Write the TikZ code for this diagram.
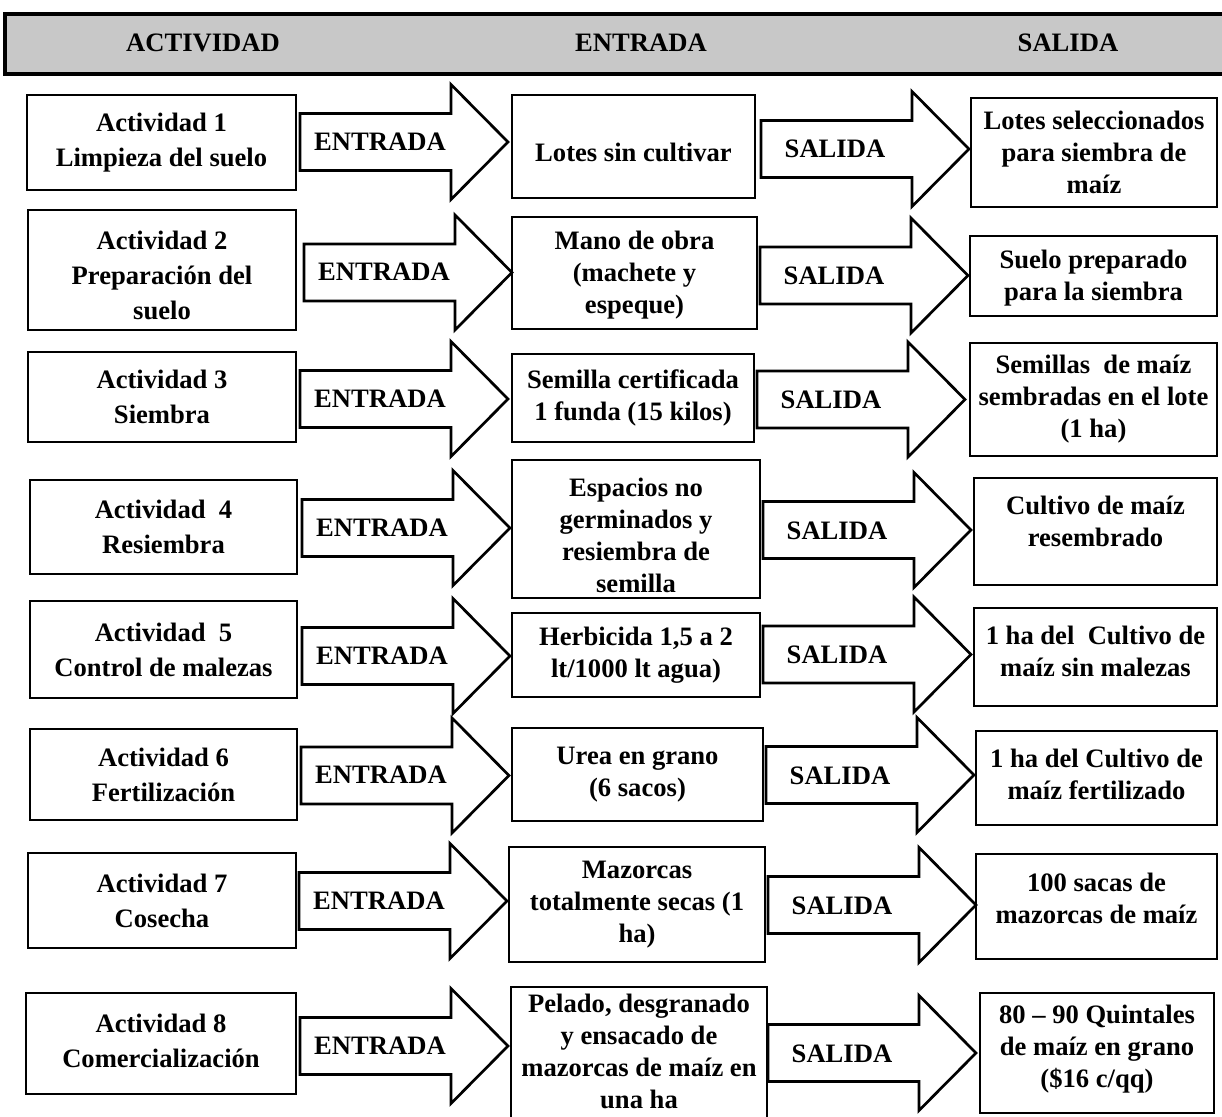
\documentclass[tikz,border=0pt]{standalone}
\usepackage{fontspec}
\setmainfont{Liberation Serif}
\usetikzlibrary{fit}
\definecolor{hdrgray}{RGB}{200,200,200}
\tikzset{
  txt/.style={font=\fontsize{13.3}{16}\selectfont\bfseries},
  atxt/.style={font=\fontsize{13.3}{17.5}\selectfont\bfseries},
  bx/.style={draw, line width=1.35pt, inner sep=0pt},
  arr/.style={draw, line width=1.35pt, line join=miter, fill=white},
  lbl/.style={txt, inner sep=0pt, align=center},
  albl/.style={atxt, inner sep=0pt, align=center},
  hdr/.style={draw, line width=1.6pt, fill=hdrgray, inner sep=0pt},
}
% box with text: [yshift in pt]{name}{corner}{corner}{text}
\newcommand\tbox[5][0]{%
  \node[bx, fit={#3 #4}] (#2) {};
  \node[lbl, yshift=#1pt] (#2t) at (#2.center) {#5};
}
\newcommand\abox[5][0]{%
  \node[bx, fit={#3 #4}] (#2) {};
  \node[albl, yshift=#1pt] (#2t) at (#2.center) {#5};
}
\newcommand\blockarrow[2]{%
  \draw[arr] (#1,#2-28.5) -- (#1+151,#2-28.5) -- (#1+151,#2-57.5) -- (#1+208,#2)
    -- (#1+151,#2+57.5) -- (#1+151,#2+28.5) -- (#1,#2+28.5) -- cycle;
}
\begin{document}
\begin{tikzpicture}[x=0.5pt,y=-0.5pt]
\useasboundingbox (0,0) rectangle (1222,1117);
% header
\node[hdr, fit={(5,14) (1245,74)}] (hdr) {};
\node[lbl] (h1) at (203,43) {ACTIVIDAD};
\node[lbl] (h2) at (641,43) {ENTRADA};
\node[lbl] (h3) at (1068,43) {SALIDA};

% row 1
\abox{a1}{(27,95)}{(296,190)}{Actividad 1\\Limpieza del suelo}
\tbox[-3]{e1}{(512,95)}{(755,198)}{Lotes sin cultivar}
\tbox{s1}{(971,98)}{(1217,207)}{Lotes seleccionados\\para siembra de\\maíz}
\blockarrow{300}{142}
\node[lbl] (ea1) at (380,142) {ENTRADA};
\blockarrow{761}{149}
\node[lbl] (sa1) at (835,149) {SALIDA};

% row 2
\abox[-2.5]{a2}{(28,210)}{(296,330)}{Actividad 2\\Preparación del\\suelo}
\tbox[-1]{e2}{(512,217)}{(757,329)}{Mano de obra\\(machete y\\espeque)}
\tbox[-1]{s2}{(970,236)}{(1217,316)}{Suelo preparado\\para la siembra}
\blockarrow{304}{272.5}
\node[lbl] (ea2) at (384,272) {ENTRADA};
\blockarrow{760}{275.5}
\node[lbl] (sa2) at (834,276) {SALIDA};

% row 3
\abox{a3}{(28,352)}{(296,442)}{Actividad 3\\Siembra}
\tbox{e3}{(512,354)}{(754,442)}{Semilla certificada\\1 funda (15 kilos)}
\tbox{s3}{(970,343)}{(1217,456)}{Semillas~ de maíz\\sembradas en el lote\\(1 ha)}
\blockarrow{300}{399}
\node[lbl] (ea3) at (380,399) {ENTRADA};
\blockarrow{757}{399.5}
\node[lbl] (sa3) at (831,400) {SALIDA};

% row 4
\abox{a4}{(30,480)}{(297,574)}{Actividad~ 4\\Resiembra}
\tbox[-3]{e4}{(512,460)}{(760,598)}{Espacios no\\germinados y\\resiembra de\\semilla}
\tbox[5]{s4}{(974,478)}{(1217,585)}{Cultivo de maíz\\resembrado}
\blockarrow{302}{528}
\node[lbl] (ea4) at (382,528) {ENTRADA};
\blockarrow{763}{530}
\node[lbl] (sa4) at (837,531) {SALIDA};

% row 5
\abox{a5}{(30,601)}{(297,698)}{Actividad~ 5\\Control de malezas}
\tbox{e5}{(512,613)}{(760,697)}{Herbicida 1,5 a 2\\lt/1000 lt agua)}
\tbox[3]{s5}{(974,608)}{(1217,706)}{1 ha del~ Cultivo de\\maíz sin malezas}
\blockarrow{302}{656}
\node[lbl] (ea5) at (382,656) {ENTRADA};
\blockarrow{763}{654.5}
\node[lbl] (sa5) at (837,655) {SALIDA};

% row 6
\abox{a6}{(30,729)}{(297,820)}{Actividad 6\\Fertilización}
\tbox{e6}{(512,728)}{(763,821)}{Urea en grano\\(6 sacos)}
\tbox[2]{s6}{(976,731)}{(1217,825)}{1 ha del Cultivo de\\maíz fertilizado}
\blockarrow{301}{775.5}
\node[lbl] (ea6) at (381,775) {ENTRADA};
\blockarrow{766}{775}
\node[lbl] (sa6) at (840,776) {SALIDA};

% row 7
\abox{a7}{(28,853)}{(296,948)}{Actividad 7\\Cosecha}
\tbox{e7}{(509,847)}{(765,962)}{Mazorcas\\totalmente secas (1\\ha)}
\tbox[4]{s7}{(976,854)}{(1217,959)}{100 sacas de\\mazorcas de maíz}
\blockarrow{299}{901}
\node[lbl] (ea7) at (379,901) {ENTRADA};
\blockarrow{768}{905}
\node[lbl] (sa7) at (842,906) {SALIDA};

% row 8
\abox[1.5]{a8}{(26,993)}{(296,1094)}{Actividad 8\\Comercialización}
\tbox[3.5]{e8}{(511,987)}{(767,1129)}{Pelado, desgranado\\y ensacado de\\mazorcas de maíz en\\una ha}
\tbox[2]{s8}{(980,993)}{(1214,1113)}{80 – 90 Quintales\\de maíz en grano\\(\$16 c/qq)}
\blockarrow{300}{1046}
\node[lbl] (ea8) at (380,1046) {ENTRADA};
\blockarrow{768}{1053}
\node[lbl] (sa8) at (842,1054) {SALIDA};
\end{tikzpicture}
\end{document}
